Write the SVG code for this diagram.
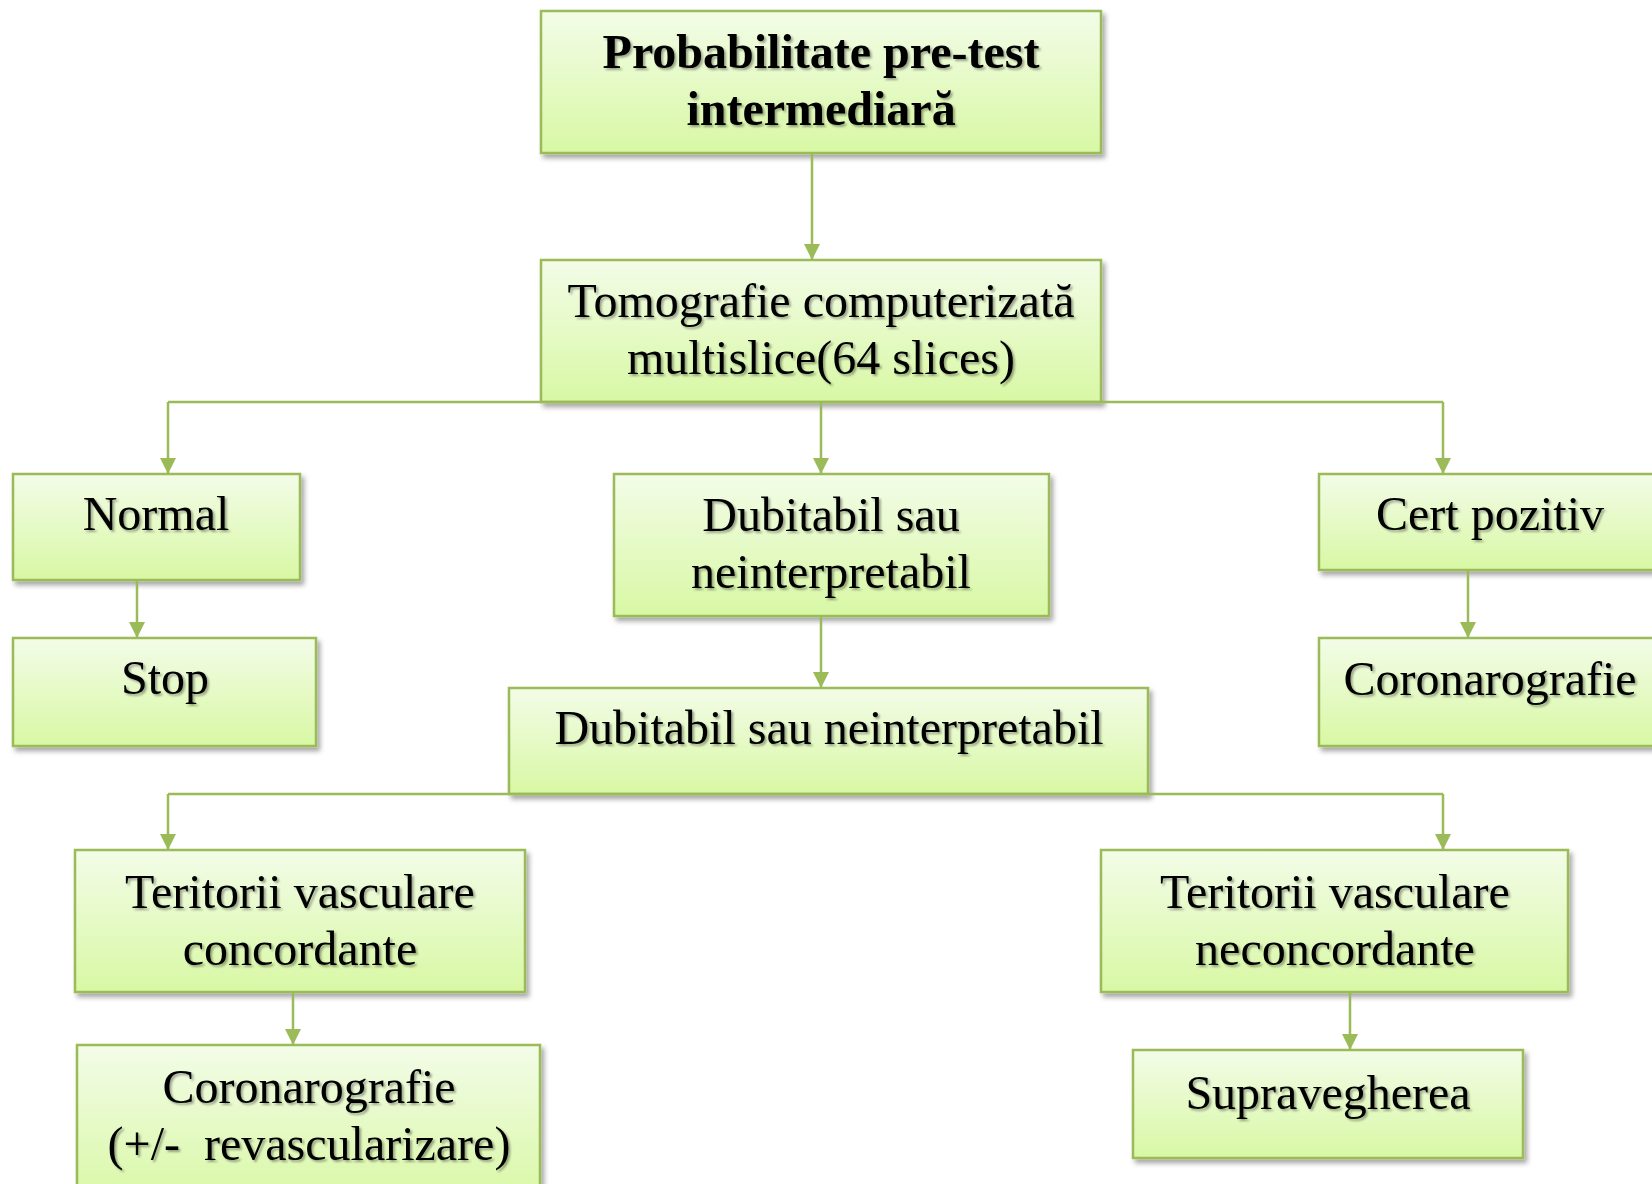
<svg xmlns="http://www.w3.org/2000/svg" width="1652" height="1184" viewBox="0 0 1652 1184">
<defs>
<linearGradient id="g" x1="0" y1="0" x2="0" y2="1">
<stop offset="0" stop-color="#f3fce8"/>
<stop offset="1" stop-color="#d8f8a4"/>
</linearGradient>
<filter id="bs" x="-10%" y="-10%" width="125%" height="130%">
<feDropShadow dx="3" dy="4" stdDeviation="2.5" flood-color="#000" flood-opacity="0.35"/>
</filter>
<filter id="ts" x="-5%" y="-20%" width="115%" height="150%">
<feDropShadow dx="2" dy="2" stdDeviation="1.2" flood-color="#000" flood-opacity="0.35"/>
</filter>
<marker id="ah" viewBox="0 0 10 10" refX="10" refY="5" markerWidth="16" markerHeight="16" markerUnits="userSpaceOnUse" orient="auto">
<path d="M0,0 L10,5 L0,10 z" fill="#9bbb59"/>
</marker>
</defs>
<style>
.box{fill:url(#g);stroke:#9bbb59;stroke-width:2.5;filter:url(#bs)}
.t{font-family:"Liberation Serif","Times New Roman",serif;font-size:48px;fill:#000;text-anchor:middle;filter:url(#ts)}
.b{font-weight:bold}
.c{fill:none;stroke:#9bbb59;stroke-width:2.5}
.a{marker-end:url(#ah)}
</style>
<rect width="1652" height="1184" fill="#fff"/>

<g id="n-top">
<rect class="box" x="541" y="11" width="560" height="142"/>
<text class="t b" x="821" y="68">Probabilitate pre-test</text>
<text class="t b" x="821" y="125">intermediară</text>
</g>
<g id="n-tomo">
<rect class="box" x="541" y="260" width="560" height="142"/>
<text class="t" x="821" y="317">Tomografie computerizată</text>
<text class="t" x="821" y="374">multislice(64 slices)</text>
</g>
<g id="n-normal">
<rect class="box" x="13" y="474" width="287" height="106"/>
<text class="t" x="156" y="530">Normal</text>
</g>
<g id="n-stop">
<rect class="box" x="13" y="638" width="303" height="108"/>
<text class="t" x="165" y="694">Stop</text>
</g>
<g id="n-dub1">
<rect class="box" x="614" y="474" width="435" height="142"/>
<text class="t" x="831" y="531">Dubitabil sau</text>
<text class="t" x="831" y="588">neinterpretabil</text>
</g>
<g id="n-dub2">
<rect class="box" x="509" y="688" width="639" height="106"/>
<text class="t" x="829" y="744">Dubitabil sau neinterpretabil</text>
</g>
<g id="n-cert">
<rect class="box" x="1319" y="474" width="350" height="96"/>
<text class="t" x="1490" y="530">Cert pozitiv</text>
</g>
<g id="n-coron-r">
<rect class="box" x="1319" y="638" width="350" height="108"/>
<text class="t" x="1490" y="695">Coronarografie</text>
</g>
<g id="n-conc">
<rect class="box" x="75" y="850" width="450" height="142"/>
<text class="t" x="300" y="908">Teritorii vasculare</text>
<text class="t" x="300" y="965">concordante</text>
</g>
<g id="n-coron-l">
<rect class="box" x="77" y="1045" width="463" height="160"/>
<text class="t" x="309" y="1103">Coronarografie</text>
<text class="t" x="309" y="1160" xml:space="preserve">(+/-  revascularizare)</text>
</g>
<g id="n-neconc">
<rect class="box" x="1101" y="850" width="467" height="142"/>
<text class="t" x="1335" y="908">Teritorii vasculare</text>
<text class="t" x="1335" y="965">neconcordante</text>
</g>
<g id="n-suprav">
<rect class="box" x="1133" y="1050" width="390" height="108"/>
<text class="t" x="1328" y="1109">Supravegherea</text>
</g>

<g id="connectors">
<path class="c a" d="M812,153 V260"/>
<path class="c" d="M168,402 H1443"/>
<path class="c a" d="M168,402 V474"/>
<path class="c a" d="M821,402 V474"/>
<path class="c a" d="M1443,402 V474"/>
<path class="c a" d="M137,580 V638"/>
<path class="c a" d="M821,616 V688"/>
<path class="c a" d="M1468,570 V638"/>
<path class="c" d="M168,794 H1443"/>
<path class="c a" d="M168,794 V850"/>
<path class="c a" d="M1443,794 V850"/>
<path class="c a" d="M293,992 V1045"/>
<path class="c a" d="M1350,992 V1050"/>
</g>
</svg>
